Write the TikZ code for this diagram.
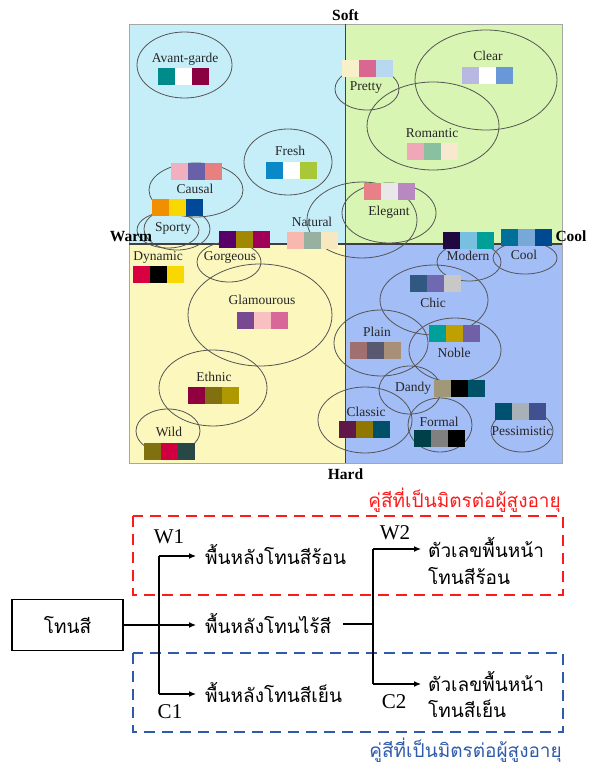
\documentclass[tikz,border=0pt]{standalone}
\usepackage{fontspec}
\setmainfont{Liberation Serif}
\newfontfamily\thai[Script=Thai]{Loma}
\usetikzlibrary{arrows.meta}
\definecolor{qTL}{HTML}{C6EEF9}
\definecolor{qTR}{HTML}{D9F5B3}
\definecolor{qBL}{HTML}{FBF7BD}
\definecolor{qBR}{HTML}{A3BDF6}
\definecolor{ellc}{HTML}{555555}
\definecolor{redd}{HTML}{FF1A1A}
\definecolor{blued}{HTML}{2F5BAA}
\newcommand{\swt}[5]{%
  \definecolor{swa}{HTML}{#3}\definecolor{swb}{HTML}{#4}\definecolor{swc}{HTML}{#5}%
  \fill[swa] (#1,#2) rectangle ++(17,17);
  \fill[swb] (#1+17,#2) rectangle ++(17,17);
  \fill[swc] (#1+34,#2) rectangle ++(17,17);}
\tikzset{
  ell/.style={draw=ellc, line width=0.8pt},
  lab/.style={font=\fontsize{13.5}{13.5}\selectfont, inner sep=0pt, text=black!85},
  axl/.style={font=\fontsize{15.5}{15.5}\selectfont\bfseries, inner sep=0pt},
  th/.style={font=\thai\fontsize{19}{19}\selectfont, inner sep=0pt},
  wc/.style={font=\fontsize{21}{21}\selectfont, inner sep=0pt},
  conn/.style={line width=1.2pt},
  arr/.style={line width=1.2pt, -{Latex[length=7pt,width=6pt]}},
  reddash/.style={draw=redd, line width=2.8pt, dash pattern=on 11pt off 7pt},
  bluedash/.style={draw=blued, line width=2.8pt, dash pattern=on 11pt off 7pt}
}
\begin{document}
\begin{tikzpicture}[x=1pt,y=-1pt]
\useasboundingbox (0,0) rectangle (593,767);
% quadrants
\fill[qTL] (129,24) rectangle (345.5,244);
\fill[qTR] (345.5,24) rectangle (562,244);
\fill[qBL] (129,244) rectangle (345.5,463);
\fill[qBR] (345.5,244) rectangle (562,463);
\draw[gray!70, line width=0.5pt] (129,24) rectangle (562,463);
\draw[black!75, line width=1.2pt] (345.5,24) -- (345.5,463);
\draw[black!75, line width=1.2pt] (129,244) -- (562,244);
% ellipses
\draw[ell] (184.5,65) ellipse [x radius=47.5pt, y radius=33pt];
\draw[ell] (288,162) ellipse [x radius=44pt, y radius=33pt];
\draw[ell] (196,190) ellipse [x radius=47pt, y radius=27pt];
\draw[ell] (168,230) ellipse [x radius=31pt, y radius=18pt];
\draw[ell] (177,229) ellipse [x radius=33pt, y radius=21pt];
\draw[ell] (229,262) ellipse [x radius=32pt, y radius=20pt];
\draw[ell] (362,220) ellipse [x radius=55pt, y radius=38pt];
\draw[ell] (367,89) ellipse [x radius=32pt, y radius=21pt];
\draw[ell] (486,80) ellipse [x radius=71pt, y radius=50pt];
\draw[ell] (433,126) ellipse [x radius=66pt, y radius=44pt];
\draw[ell] (389,213) ellipse [x radius=47pt, y radius=30pt];
\draw[ell] (469,262) ellipse [x radius=32pt, y radius=19pt];
\draw[ell] (525,258) ellipse [x radius=32pt, y radius=16pt];
\draw[ell] (434,300) ellipse [x radius=54pt, y radius=35pt];
\draw[ell] (381,343) ellipse [x radius=47pt, y radius=33pt];
\draw[ell] (455,350) ellipse [x radius=46pt, y radius=32pt];
\draw[ell] (410,390) ellipse [x radius=31pt, y radius=24pt];
\draw[ell] (365,420) ellipse [x radius=47pt, y radius=33pt];
\draw[ell] (440,425) ellipse [x radius=32pt, y radius=27pt];
\draw[ell] (522,431) ellipse [x radius=31pt, y radius=21pt];
\draw[ell] (260,315) ellipse [x radius=72pt, y radius=51pt];
\draw[ell] (213,388) ellipse [x radius=54pt, y radius=38pt];
\draw[ell] (168,431) ellipse [x radius=32pt, y radius=22pt];
% swatches
\swt{158}{68}{008B8B}{FFFFFF}{8B0040}
\swt{266}{162}{0A88C8}{FFFFFF}{A8C838}
\swt{171}{163}{F0B0C0}{6860A8}{E88080}
\swt{152}{199}{F09000}{F8D800}{004898}
\swt{219}{231}{580068}{A08800}{A00058}
\swt{133}{266}{D80040}{000000}{F8D800}
\swt{287}{232}{F8B8B0}{98B0A0}{F8E8C0}
\swt{342}{60}{F8F0C8}{D86890}{B8D8F0}
\swt{462}{67}{B8B8E0}{FFFFFF}{6898D8}
\swt{407}{143}{F0A8B8}{88C0A0}{F8E8D0}
\swt{364}{183}{E88088}{E8E8E8}{B888C0}
\swt{443}{232}{200840}{78C0E0}{00A098}
\swt{501}{229}{007098}{78A8D8}{004890}
\swt{410}{275}{305880}{7068B0}{C8C8C8}
\swt{350}{342}{A07070}{585870}{A89078}
\swt{429}{325}{00A098}{C0A000}{7060A8}
\swt{434}{380}{A09878}{000000}{005068}
\swt{339}{421}{601848}{907800}{005068}
\swt{414}{430}{004048}{808080}{000000}
\swt{495}{403}{005070}{A8B0B8}{405090}
\swt{237}{312}{784890}{F8C0C0}{D86898}
\swt{188}{387}{900040}{807010}{B09800}
\swt{144}{443}{807010}{D00040}{284848}
% labels
\node[lab] (lAvant) at (185,59) {Avant-garde};
\node[lab] (lFresh) at (290,151) {Fresh};
\node[lab] (lCausal) at (195,189) {Causal};
\node[lab] (lSporty) at (173,228) {Sporty};
\node[lab] (lGorg) at (230,257) {Gorgeous};
\node[lab] (lDyn) at (158,257) {Dynamic};
\node[lab] (lNat) at (312,222) {Natural};
\node[lab] (lPretty) at (366,88) {Pretty};
\node[lab] (lClear) at (488,56) {Clear};
\node[lab] (lRom) at (432,133) {Romantic};
\node[lab] (lEleg) at (389,212) {Elegant};
\node[lab] (lMod) at (468,256) {Modern};
\node[lab] (lCool) at (524,255) {Cool};
\node[lab] (lChic) at (433,303) {Chic};
\node[lab] (lPlain) at (377,332) {Plain};
\node[lab] (lNoble) at (454,353) {Noble};
\node[lab] (lDandy) at (413,388) {Dandy};
\node[lab] (lClassic) at (366,412) {Classic};
\node[lab] (lFormal) at (439,422) {Formal};
\node[lab] (lPess) at (522,431) {Pessimistic};
\node[lab] (lGlam) at (262,300) {Glamourous};
\node[lab] (lEth) at (214,377) {Ethnic};
\node[lab] (lWild) at (169,432) {Wild};
\node[axl] (aSoft) at (345.5,15) {Soft};
\node[axl] (aHard) at (345.5,474) {Hard};
\node[axl] (aWarm) at (131,237) {Warm};
\node[axl] (aCool) at (571,236) {Cool};
% lower diagram
\draw[reddash] (133,516) rectangle (563,595);
\draw[bluedash] (133,653) rectangle (563,732);
\node[th, text=redd, anchor=east] (tred) at (561,500) {คู่สีที่เป็นมิตรต่อผู้สูงอายุ};
\node[th, text=blued, anchor=east] (tblue) at (562,750) {คู่สีที่เป็นมิตรต่อผู้สูงอายุ};
\node[draw, line width=1.2pt, minimum width=111pt, minimum height=51pt, th] (tone) at (67.5,625) {โทนสี};
\node[th, anchor=west] (bg1) at (205,554) {พื้นหลังโทนสีร้อน};
\node[th, anchor=west] (bg2) at (205,623) {พื้นหลังโทนไร้สี};
\node[th, anchor=west] (bg3) at (205,692) {พื้นหลังโทนสีเย็น};
\coordinate (v1) at (159,556);
\coordinate (v3) at (159,694);
\coordinate (e1) at (196,556);
\coordinate (e2) at (196,625);
\coordinate (e3) at (196,694);
\draw[conn] (v1) -- (v3);
\draw[arr] (tone.east) -- (e2);
\draw[arr] (v1) -- (e1);
\draw[arr] (v3) -- (e3);
\node[wc] (w1) at (169,537) {W1};
\node[wc] (c1) at (170,712) {C1};
\coordinate (h2) at (343,624);
\coordinate (u1) at (373,549);
\coordinate (u2) at (373,624);
\coordinate (u3) at (373,684);
\coordinate (f1) at (421,549);
\coordinate (f3) at (421,684);
\draw[conn] (h2) -- (u2);
\draw[conn] (u1) -- (u3);
\draw[arr] (u1) -- (f1);
\draw[arr] (u3) -- (f3);
\node[th, anchor=west] (fg1a) at (428,547) {ตัวเลขพื้นหน้า};
\node[th, anchor=west] (fg1b) at (428,576) {โทนสีร้อน};
\node[th, anchor=west] (fg2a) at (428,681) {ตัวเลขพื้นหน้า};
\node[th, anchor=west] (fg2b) at (428,709) {โทนสีเย็น};
\node[wc] (w2) at (395,533) {W2};
\node[wc] (c2) at (394,702) {C2};
\end{tikzpicture}
\end{document}
